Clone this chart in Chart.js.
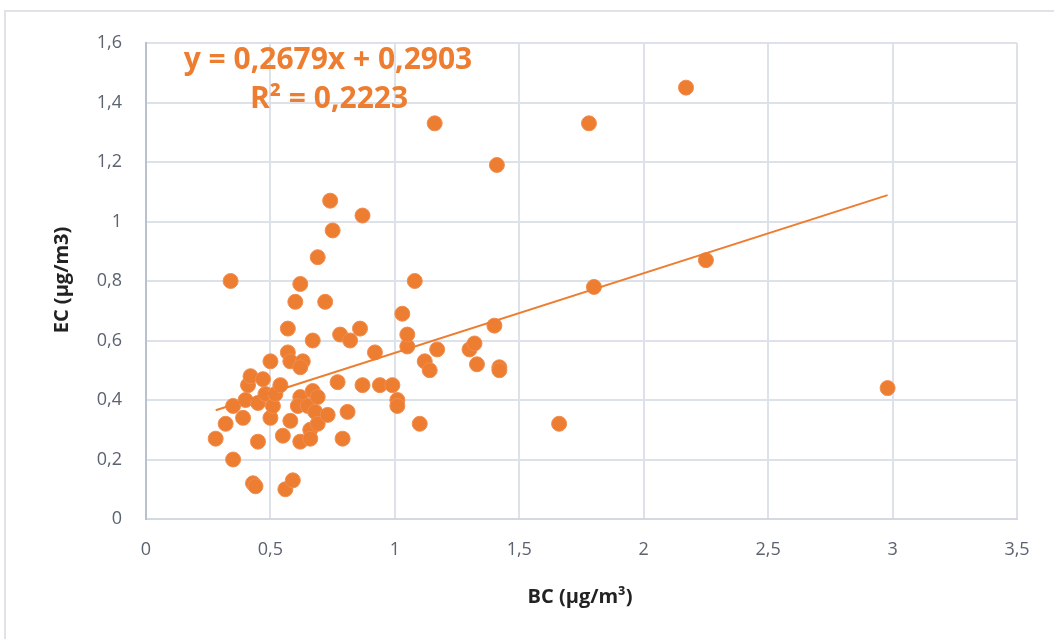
<!DOCTYPE html>
<html>
<head>
<meta charset="utf-8">
<script src="https://cdn.jsdelivr.net/npm/chart.js@4.4.1/dist/chart.umd.min.js"></script>
<style>
  html, body { margin: 0; padding: 0; background: #ffffff; }
  #wrap { position: relative; width: 1054px; height: 639px; }
  canvas { display: block; }
</style>
</head>
<body>
<div id="wrap"><canvas id="c" width="1054" height="639"></canvas></div>
<script>
// BC (x) values
const bcValues = [
  0.28, 0.32, 0.34, 0.35, 0.35, 0.39, 0.40, 0.41, 0.42, 0.43,
  0.44, 0.45, 0.45, 0.47, 0.48, 0.50, 0.50, 0.51, 0.52, 0.54,
  0.55, 0.56, 0.57, 0.57, 0.58, 0.58, 0.59, 0.60, 0.62, 0.62,
  0.63, 0.62, 0.62, 0.61, 0.65, 0.66, 0.67, 0.67, 0.66, 0.68,
  0.69, 0.69, 0.69, 0.72, 0.73, 0.74, 0.75, 0.77, 0.78, 0.79,
  0.81, 0.82, 0.86, 0.87, 0.87, 0.92, 0.94, 0.99, 1.01, 1.01,
  1.03, 1.05, 1.05, 1.08, 1.10, 1.12, 1.14, 1.17, 1.16, 1.30,
  1.32, 1.33, 1.40, 1.41, 1.42, 1.42, 1.66, 1.78, 1.80, 2.17,
  2.25, 2.98
];
// EC (y) values
const ecValues = [
  0.27, 0.32, 0.80, 0.38, 0.20, 0.34, 0.40, 0.45, 0.48, 0.12,
  0.11, 0.26, 0.39, 0.47, 0.42, 0.53, 0.34, 0.38, 0.42, 0.45,
  0.28, 0.10, 0.64, 0.56, 0.53, 0.33, 0.13, 0.73, 0.79, 0.41,
  0.53, 0.51, 0.26, 0.38, 0.38, 0.30, 0.60, 0.43, 0.27, 0.36,
  0.88, 0.32, 0.41, 0.73, 0.35, 1.07, 0.97, 0.46, 0.62, 0.27,
  0.36, 0.60, 0.64, 0.45, 1.02, 0.56, 0.45, 0.45, 0.40, 0.38,
  0.69, 0.58, 0.62, 0.80, 0.32, 0.53, 0.50, 0.57, 1.33, 0.57,
  0.59, 0.52, 0.65, 1.19, 0.51, 0.50, 0.32, 1.33, 0.78, 1.45,
  0.87, 0.44
];
// Trendline coefficients as printed on the chart
const trendSlope = 0.2679;
const trendIntercept = 0.2903;
const trendX = [Math.min(...bcValues), Math.max(...bcValues)];
const equationLines = ['y = 0,2679x + 0,2903', 'R² = 0,2223'];
const xTitle = 'BC (µg/m³)';
const yTitle = 'EC (µg/m3)';

const points = bcValues.map((x, i) => ({ x: x, y: ecValues[i] }));
const trendPoints = trendX.map(x => ({ x: x, y: trendSlope * x + trendIntercept }));

const fmt = v => String(Number(v.toFixed(2))).replace('.', ',');
const FONT = '"Open Sans", "Liberation Sans", sans-serif';
const ORANGE = '#ed7d31';

const decor = {
  id: 'decor',
  beforeDraw(chart) {
    const ctx = chart.ctx;
    ctx.save();
    ctx.strokeStyle = '#dfe3e8';
    ctx.lineWidth = 2;
    ctx.beginPath();
    ctx.moveTo(5, 639);
    ctx.lineTo(5, 11);
    ctx.lineTo(1054, 11);
    ctx.stroke();
    ctx.restore();
  },
  afterDraw(chart) {
    const ctx = chart.ctx;
    ctx.save();
    // equation
    ctx.fillStyle = ORANGE;
    ctx.font = 'bold 30px ' + FONT;
    ctx.textAlign = 'center';
    ctx.textBaseline = 'middle';
    ctx.fillText(equationLines[0], 328, 60);
    ctx.fillText(equationLines[1], 329, 99);
    // axis titles
    ctx.fillStyle = '#222222';
    ctx.font = 'bold 20px ' + FONT;
    ctx.fillText(xTitle, 580, 597);
    ctx.translate(62, 280);
    ctx.rotate(-Math.PI / 2);
    ctx.font = 'bold 20px ' + FONT;
    ctx.fillText(yTitle, 0, 0);
    ctx.restore();
  }
};

new Chart(document.getElementById('c'), {
  type: 'scatter',
  data: {
    datasets: [
      {
        label: 'EC vs BC',
        data: points,
        backgroundColor: ORANGE,
        borderColor: '#f08d4f',
        borderWidth: 1,
        pointRadius: 7.5,
        pointHoverRadius: 7.5,
        order: 2
      },
      {
        label: 'Trend',
        type: 'line',
        data: trendPoints,
        borderColor: ORANGE,
        borderWidth: 2,
        pointRadius: 0,
        fill: false,
        order: 1
      }
    ]
  },
  options: {
    responsive: false,
    animation: false,
    devicePixelRatio: 1,
    layout: { padding: { left: 0, right: 37, top: 43, bottom: 0 } },
    plugins: {
      legend: { display: false },
      tooltip: { enabled: false },
      title: { display: false }
    },
    scales: {
      x: {
        type: 'linear',
        min: 0,
        max: 3.5,
        afterFit(scale) { scale.height = 120; },
        ticks: {
          stepSize: 0.5,
          padding: 20,
          color: '#5b6270',
          font: { family: FONT, size: 18 },
          callback: v => fmt(v)
        },
        grid: { color: '#dde2ea', lineWidth: 2, drawTicks: false },
        border: { color: '#d3d9e2', width: 2 }
      },
      y: {
        type: 'linear',
        min: 0,
        max: 1.6,
        afterFit(scale) { scale.width = 146; },
        ticks: {
          stepSize: 0.2,
          padding: 24,
          color: '#5b6270',
          font: { family: FONT, size: 18 },
          callback: v => fmt(v)
        },
        grid: { color: '#dde2ea', lineWidth: 2, drawTicks: false },
        border: { color: '#b7c1cf', width: 2 }
      }
    }
  },
  plugins: [decor]
});
</script>
</body>
</html>
